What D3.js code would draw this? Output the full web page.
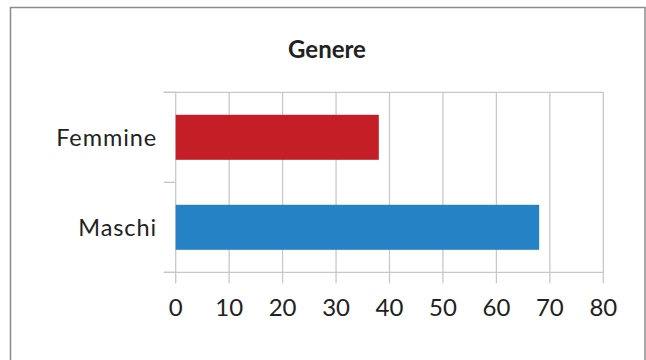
<!DOCTYPE html>
<html><head><meta charset="utf-8">
<script src="https://cdn.jsdelivr.net/npm/d3@7"></script>
<style>body{margin:0;background:#fff}svg{display:block}text{font-family:Lato,"Open Sans",sans-serif;fill:#222}</style>
</head><body>
<script>
const title = "Genere";
const categories = ["Femmine", "Maschi"];
const values = [38, 68];
const colors = ["#C41F26", "#2482C5"];
const xTicks = [0, 10, 20, 30, 40, 50, 60, 70, 80];

const W = 646, H = 360;
const m = {left: 175.7, right: 646 - 603.3, top: 92.3, bottom: 360 - 272.3};
const svg = d3.select("body").append("svg").attr("width", W).attr("height", H);

svg.append("rect").attr("x", 10.5).attr("y", 7.5).attr("width", 634.5).attr("height", 360)
  .attr("fill", "#fff").attr("stroke", "#8a8a8a").attr("stroke-width", 1.5);

svg.append("text").attr("x", 327).attr("y", 58).attr("text-anchor", "middle")
  .attr("font-size", 24).attr("font-weight", "bold").text(title);

const x = d3.scaleLinear().domain([0, 80]).range([m.left, W - m.right]);
const y = d3.scaleBand().domain(categories).range([m.top, H - m.bottom]).paddingInner(0.5).paddingOuter(0.25);

// gridlines
svg.append("g").selectAll("line").data(xTicks).join("line")
  .attr("x1", d => x(d)).attr("x2", d => x(d))
  .attr("y1", m.top).attr("y2", H - m.bottom + 11)
  .attr("stroke", "#c8c8c8").attr("stroke-width", 1.3);

// top border line of plot
svg.append("line").attr("x1", m.left - 12).attr("x2", x(80)).attr("y1", m.top).attr("y2", m.top)
  .attr("stroke", "#c8c8c8").attr("stroke-width", 1.3);

// y axis ticks at band boundaries
const yEdges = [m.top, (m.top + H - m.bottom) / 2, H - m.bottom];
svg.append("g").selectAll("line").data(yEdges).join("line")
  .attr("x1", m.left - 12).attr("x2", m.left).attr("y1", d => d).attr("y2", d => d)
  .attr("stroke", "#c8c8c8").attr("stroke-width", 1.3);

// bottom axis line
svg.append("line").attr("x1", m.left - 12).attr("x2", x(80)).attr("y1", H - m.bottom).attr("y2", H - m.bottom)
  .attr("stroke", "#c8c8c8").attr("stroke-width", 1.3);

// bars
svg.append("g").selectAll("rect").data(categories).join("rect")
  .attr("x", x(0)).attr("y", d => y(d))
  .attr("width", (d, i) => x(values[i]) - x(0)).attr("height", y.bandwidth())
  .attr("fill", (d, i) => colors[i]);

// y labels
svg.append("g").selectAll("text").data(categories).join("text")
  .attr("x", 157).attr("y", d => y(d) + y.bandwidth() / 2 + 8.5)
  .attr("text-anchor", "end").attr("font-size", 23.5).attr("letter-spacing", 0.9).text(d => d);

// x labels
svg.append("g").selectAll("text").data(xTicks).join("text")
  .attr("x", d => x(d)).attr("y", 316).attr("text-anchor", "middle")
  .attr("font-size", 24).text(d => d);
</script>
</body></html>
